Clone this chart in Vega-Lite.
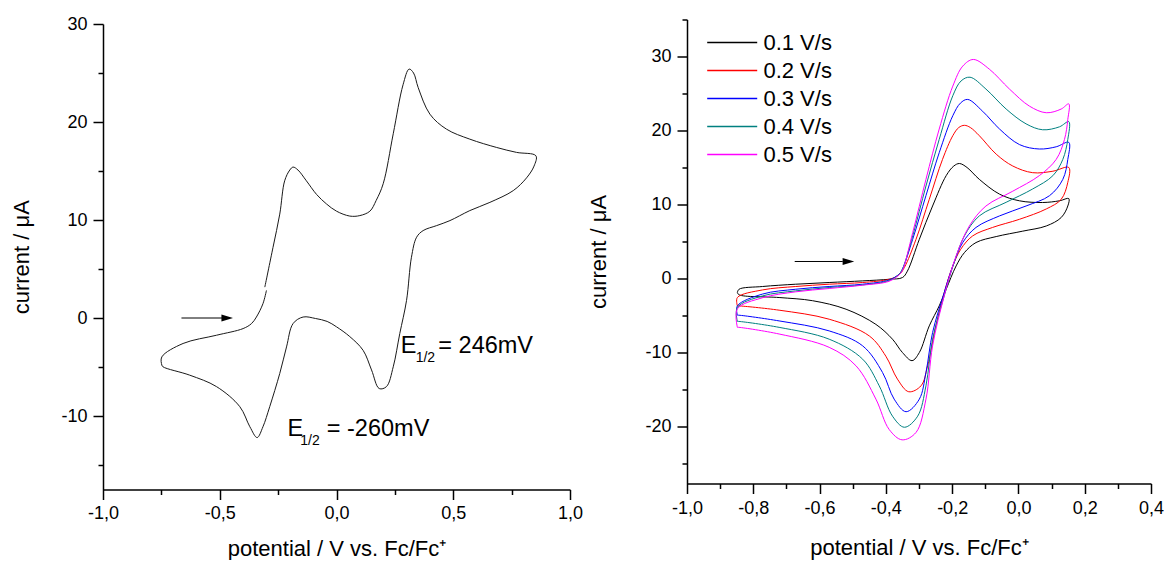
{
  "$schema": "https://vega.github.io/schema/vega-lite/v6.json",
  "padding": {"left": 10, "top": 10.5, "right": 0, "bottom": 0},
  "spacing": 4,
  "config": {
    "font": "Liberation Sans",
    "locale": {"number": {"decimal": ",", "thousands": ".", "grouping": [3], "currency": ["", ""], "minus": "-"}},
    "view": {"stroke": null},
    "axis": {
      "grid": false, "domainColor": "#000", "domainWidth": 1.5, "tickColor": "#000", "tickWidth": 1.5,
      "labelFont": "Liberation Sans", "labelFontSize": 18, "labelColor": "#000", "labelOverlap": false, "labelFlush": false,
      "titleFont": "Liberation Sans", "titleFontSize": 22, "titleFontWeight": "normal", "titleColor": "#000"
    }
  },
  "datasets": {
    "left": [
      {"i":1,"x":-0.307,"y":3.15},{"i":2,"x":-0.272,"y":7.2},{"i":3,"x":-0.243,"y":10.6},{"i":4,"x":-0.222,"y":14.0},{"i":5,"x":-0.2,"y":15.1},{"i":6,"x":-0.186,"y":15.4},{"i":7,"x":-0.165,"y":15.1},{"i":8,"x":-0.129,"y":14.0},{"i":9,"x":-0.085,"y":12.6},{"i":10,"x":-0.043,"y":11.64},{"i":11,"x":0.0,"y":10.9},{"i":12,"x":0.057,"y":10.4},{"i":13,"x":0.1,"y":10.45},{"i":14,"x":0.143,"y":10.9},{"i":15,"x":0.17,"y":12.0},{"i":16,"x":0.2,"y":13.7},{"i":17,"x":0.243,"y":18.8},{"i":18,"x":0.285,"y":23.8},{"i":19,"x":0.311,"y":25.4},{"i":20,"x":0.33,"y":25.0},{"i":21,"x":0.35,"y":23.5},{"i":22,"x":0.4,"y":20.8},{"i":23,"x":0.471,"y":19.27},{"i":24,"x":0.571,"y":18.25},{"i":25,"x":0.686,"y":17.4},{"i":26,"x":0.771,"y":16.9},{"i":27,"x":0.854,"y":16.55},
      {"i":28,"x":0.846,"y":15.5},{"i":29,"x":0.814,"y":14.3},{"i":30,"x":0.757,"y":13.0},{"i":31,"x":0.657,"y":11.8},{"i":32,"x":0.571,"y":10.96},{"i":33,"x":0.486,"y":9.94},{"i":34,"x":0.429,"y":9.43},{"i":35,"x":0.371,"y":8.92},{"i":36,"x":0.343,"y":8.24},{"i":37,"x":0.321,"y":6.2},{"i":38,"x":0.3,"y":1.8},{"i":39,"x":0.271,"y":-1.59},{"i":40,"x":0.243,"y":-4.98},{"i":41,"x":0.214,"y":-7.0},{"i":42,"x":0.183,"y":-7.2},{"i":43,"x":0.15,"y":-5.3},{"i":44,"x":0.114,"y":-3.3},{"i":45,"x":0.057,"y":-1.9},{"i":46,"x":0.0,"y":-0.9},{"i":47,"x":-0.04,"y":-0.35},{"i":48,"x":-0.09,"y":-0.05},{"i":49,"x":-0.143,"y":0.1},{"i":50,"x":-0.186,"y":-0.57},{"i":51,"x":-0.214,"y":-2.95},{"i":52,"x":-0.243,"y":-5.66},{"i":53,"x":-0.286,"y":-9.05},{"i":54,"x":-0.315,"y":-11.1},{"i":55,"x":-0.34,"y":-12.2},{"i":56,"x":-0.371,"y":-11.1},{"i":57,"x":-0.414,"y":-9.05},{"i":58,"x":-0.514,"y":-7.0},{"i":59,"x":-0.629,"y":-5.83},{"i":60,"x":-0.743,"y":-4.98},{"i":61,"x":-0.748,"y":-4.8},{"i":62,"x":-0.748,"y":-3.97},{"i":63,"x":-0.657,"y":-2.6},{"i":64,"x":-0.514,"y":-1.76},{"i":65,"x":-0.4,"y":-1.08},{"i":66,"x":-0.364,"y":-0.57},{"i":67,"x":-0.343,"y":0.1},{"i":68,"x":-0.315,"y":1.46},{"i":69,"x":-0.3,"y":2.82}
    ],
    "arrowL": [{"x":-0.664,"x2":-0.49,"y":0}],
    "headL": [{"x":-0.468,"y":0}],
    "notesL": [
      {"x":0.2756,"y":-3.62,"t":"E","k":"m"},{"x":0.339,"y":-4.54,"t":"1/2","k":"s"},{"x":0.436,"y":-3.62,"t":"= 246mV","k":"m"},
      {"x":-0.21,"y":-12.03,"t":"E","k":"m"},{"x":-0.155,"y":-12.95,"t":"1/2","k":"s"},{"x":-0.0416,"y":-12.03,"t":"= -260mV","k":"m"}
    ],
    "arrowR": [{"x":-0.675,"x2":-0.53,"y":2.3}],
    "headR": [{"x":-0.513,"y":2.3}],
    "right": [
      {"s":"0.1 V/s","i":1,"x":-0.848,"y":-1.9},{"s":"0.1 V/s","i":2,"x":-0.843,"y":-1.45},{"s":"0.1 V/s","i":3,"x":-0.772,"y":-1.08},{"s":"0.1 V/s","i":4,"x":-0.672,"y":-0.77},{"s":"0.1 V/s","i":5,"x":-0.571,"y":-0.54},{"s":"0.1 V/s","i":6,"x":-0.47,"y":-0.32},{"s":"0.1 V/s","i":7,"x":-0.39,"y":-0.1},{"s":"0.1 V/s","i":8,"x":-0.35,"y":0.13},{"s":"0.1 V/s","i":9,"x":-0.335,"y":1.0},{"s":"0.1 V/s","i":10,"x":-0.299,"y":5.3},{"s":"0.1 V/s","i":11,"x":-0.259,"y":9.8},{"s":"0.1 V/s","i":12,"x":-0.218,"y":13.9},{"s":"0.1 V/s","i":13,"x":-0.195,"y":15.2},{"s":"0.1 V/s","i":14,"x":-0.178,"y":15.54},{"s":"0.1 V/s","i":15,"x":-0.155,"y":15.0},{"s":"0.1 V/s","i":16,"x":-0.118,"y":13.4},{"s":"0.1 V/s","i":17,"x":-0.057,"y":11.4},{"s":"0.1 V/s","i":18,"x":0.003,"y":10.5},{"s":"0.1 V/s","i":19,"x":0.073,"y":10.27},{"s":"0.1 V/s","i":20,"x":0.124,"y":10.5},{"s":"0.1 V/s","i":21,"x":0.152,"y":10.8},
      {"s":"0.1 V/s","i":22,"x":0.149,"y":9.8},{"s":"0.1 V/s","i":23,"x":0.129,"y":8.24},{"s":"0.1 V/s","i":24,"x":0.084,"y":7.1},{"s":"0.1 V/s","i":25,"x":0.013,"y":6.4},{"s":"0.1 V/s","i":26,"x":-0.067,"y":5.67},{"s":"0.1 V/s","i":27,"x":-0.128,"y":4.86},{"s":"0.1 V/s","i":28,"x":-0.163,"y":3.5},{"s":"0.1 V/s","i":29,"x":-0.188,"y":1.7},{"s":"0.1 V/s","i":30,"x":-0.218,"y":-1.45},{"s":"0.1 V/s","i":31,"x":-0.239,"y":-3.7},{"s":"0.1 V/s","i":32,"x":-0.269,"y":-6.4},{"s":"0.1 V/s","i":33,"x":-0.299,"y":-10.0},{"s":"0.1 V/s","i":34,"x":-0.321,"y":-11.1},{"s":"0.1 V/s","i":35,"x":-0.35,"y":-10.0},{"s":"0.1 V/s","i":36,"x":-0.38,"y":-8.2},{"s":"0.1 V/s","i":37,"x":-0.43,"y":-6.2},{"s":"0.1 V/s","i":38,"x":-0.52,"y":-4.15},{"s":"0.1 V/s","i":39,"x":-0.621,"y":-3.0},{"s":"0.1 V/s","i":40,"x":-0.722,"y":-2.57},{"s":"0.1 V/s","i":41,"x":-0.843,"y":-2.2},{"s":"0.1 V/s","i":42,"x":-0.848,"y":-1.9},

      {"s":"0.2 V/s","i":1,"x":-0.848,"y":-3.7},{"s":"0.2 V/s","i":2,"x":-0.848,"y":-2.57},{"s":"0.2 V/s","i":3,"x":-0.772,"y":-1.54},{"s":"0.2 V/s","i":4,"x":-0.672,"y":-1.08},{"s":"0.2 V/s","i":5,"x":-0.571,"y":-0.77},{"s":"0.2 V/s","i":6,"x":-0.47,"y":-0.54},{"s":"0.2 V/s","i":7,"x":-0.39,"y":-0.1},{"s":"0.2 V/s","i":8,"x":-0.36,"y":0.5},{"s":"0.2 V/s","i":9,"x":-0.344,"y":1.5},{"s":"0.2 V/s","i":10,"x":-0.309,"y":5.3},{"s":"0.2 V/s","i":11,"x":-0.269,"y":10.7},{"s":"0.2 V/s","i":12,"x":-0.229,"y":16.1},{"s":"0.2 V/s","i":13,"x":-0.198,"y":19.3},{"s":"0.2 V/s","i":14,"x":-0.18,"y":20.4},{"s":"0.2 V/s","i":15,"x":-0.163,"y":20.7},{"s":"0.2 V/s","i":16,"x":-0.145,"y":20.4},{"s":"0.2 V/s","i":17,"x":-0.118,"y":19.3},{"s":"0.2 V/s","i":18,"x":-0.067,"y":16.8},{"s":"0.2 V/s","i":19,"x":-0.017,"y":15.2},{"s":"0.2 V/s","i":20,"x":0.043,"y":14.3},{"s":"0.2 V/s","i":21,"x":0.104,"y":14.5},{"s":"0.2 V/s","i":22,"x":0.152,"y":15.0},
      {"s":"0.2 V/s","i":23,"x":0.149,"y":13.0},{"s":"0.2 V/s","i":24,"x":0.129,"y":10.7},{"s":"0.2 V/s","i":25,"x":0.084,"y":9.4},{"s":"0.2 V/s","i":26,"x":0.003,"y":8.0},{"s":"0.2 V/s","i":27,"x":-0.078,"y":6.9},{"s":"0.2 V/s","i":28,"x":-0.138,"y":5.76},{"s":"0.2 V/s","i":29,"x":-0.174,"y":3.96},{"s":"0.2 V/s","i":30,"x":-0.198,"y":1.7},{"s":"0.2 V/s","i":31,"x":-0.224,"y":-1.9},{"s":"0.2 V/s","i":32,"x":-0.249,"y":-6.4},{"s":"0.2 V/s","i":33,"x":-0.274,"y":-11.8},{"s":"0.2 V/s","i":34,"x":-0.294,"y":-14.5},{"s":"0.2 V/s","i":35,"x":-0.331,"y":-15.3},{"s":"0.2 V/s","i":36,"x":-0.365,"y":-13.6},{"s":"0.2 V/s","i":37,"x":-0.4,"y":-10.5},{"s":"0.2 V/s","i":38,"x":-0.45,"y":-7.76},{"s":"0.2 V/s","i":39,"x":-0.571,"y":-5.5},{"s":"0.2 V/s","i":40,"x":-0.722,"y":-4.28},{"s":"0.2 V/s","i":41,"x":-0.843,"y":-3.7},{"s":"0.2 V/s","i":42,"x":-0.848,"y":-3.7},

      {"s":"0.3 V/s","i":1,"x":-0.848,"y":-4.96},{"s":"0.3 V/s","i":2,"x":-0.848,"y":-3.7},{"s":"0.3 V/s","i":3,"x":-0.772,"y":-2.1},{"s":"0.3 V/s","i":4,"x":-0.672,"y":-1.45},{"s":"0.3 V/s","i":5,"x":-0.571,"y":-1.08},{"s":"0.3 V/s","i":6,"x":-0.47,"y":-0.77},{"s":"0.3 V/s","i":7,"x":-0.39,"y":-0.19},{"s":"0.3 V/s","i":8,"x":-0.36,"y":0.6},{"s":"0.3 V/s","i":9,"x":-0.35,"y":1.26},{"s":"0.3 V/s","i":10,"x":-0.319,"y":5.3},{"s":"0.3 V/s","i":11,"x":-0.279,"y":11.2},{"s":"0.3 V/s","i":12,"x":-0.239,"y":17.0},{"s":"0.3 V/s","i":13,"x":-0.198,"y":22.0},{"s":"0.3 V/s","i":14,"x":-0.175,"y":23.7},{"s":"0.3 V/s","i":15,"x":-0.153,"y":24.2},{"s":"0.3 V/s","i":16,"x":-0.108,"y":22.6},{"s":"0.3 V/s","i":17,"x":-0.057,"y":20.2},{"s":"0.3 V/s","i":18,"x":0.003,"y":18.1},{"s":"0.3 V/s","i":19,"x":0.063,"y":17.5},{"s":"0.3 V/s","i":20,"x":0.114,"y":17.8},{"s":"0.3 V/s","i":21,"x":0.152,"y":18.4},
      {"s":"0.3 V/s","i":22,"x":0.149,"y":16.1},{"s":"0.3 V/s","i":23,"x":0.134,"y":13.4},{"s":"0.3 V/s","i":24,"x":0.094,"y":11.2},{"s":"0.3 V/s","i":25,"x":0.023,"y":9.8},{"s":"0.3 V/s","i":26,"x":-0.057,"y":8.46},{"s":"0.3 V/s","i":27,"x":-0.128,"y":6.9},{"s":"0.3 V/s","i":28,"x":-0.168,"y":4.86},{"s":"0.3 V/s","i":29,"x":-0.198,"y":1.7},{"s":"0.3 V/s","i":30,"x":-0.224,"y":-1.9},{"s":"0.3 V/s","i":31,"x":-0.259,"y":-7.3},{"s":"0.3 V/s","i":32,"x":-0.279,"y":-12.7},{"s":"0.3 V/s","i":33,"x":-0.299,"y":-16.3},{"s":"0.3 V/s","i":34,"x":-0.339,"y":-18.0},{"s":"0.3 V/s","i":35,"x":-0.375,"y":-16.3},{"s":"0.3 V/s","i":36,"x":-0.41,"y":-12.7},{"s":"0.3 V/s","i":37,"x":-0.47,"y":-9.1},{"s":"0.3 V/s","i":38,"x":-0.571,"y":-7.08},{"s":"0.3 V/s","i":39,"x":-0.722,"y":-5.73},{"s":"0.3 V/s","i":40,"x":-0.843,"y":-4.96},{"s":"0.3 V/s","i":41,"x":-0.848,"y":-4.96},

      {"s":"0.4 V/s","i":1,"x":-0.848,"y":-5.8},{"s":"0.4 V/s","i":2,"x":-0.848,"y":-3.9},{"s":"0.4 V/s","i":3,"x":-0.772,"y":-2.35},{"s":"0.4 V/s","i":4,"x":-0.672,"y":-1.67},{"s":"0.4 V/s","i":5,"x":-0.571,"y":-1.22},{"s":"0.4 V/s","i":6,"x":-0.47,"y":-0.86},{"s":"0.4 V/s","i":7,"x":-0.39,"y":-0.28},{"s":"0.4 V/s","i":8,"x":-0.36,"y":0.6},{"s":"0.4 V/s","i":9,"x":-0.35,"y":1.26},{"s":"0.4 V/s","i":10,"x":-0.319,"y":5.76},{"s":"0.4 V/s","i":11,"x":-0.279,"y":12.5},{"s":"0.4 V/s","i":12,"x":-0.239,"y":18.8},{"s":"0.4 V/s","i":13,"x":-0.198,"y":24.7},{"s":"0.4 V/s","i":14,"x":-0.173,"y":26.7},{"s":"0.4 V/s","i":15,"x":-0.146,"y":27.2},{"s":"0.4 V/s","i":16,"x":-0.098,"y":25.6},{"s":"0.4 V/s","i":17,"x":-0.037,"y":22.9},{"s":"0.4 V/s","i":18,"x":0.023,"y":20.9},{"s":"0.4 V/s","i":19,"x":0.073,"y":20.1},{"s":"0.4 V/s","i":20,"x":0.124,"y":20.5},{"s":"0.4 V/s","i":21,"x":0.152,"y":21.2},
      {"s":"0.4 V/s","i":22,"x":0.149,"y":18.8},{"s":"0.4 V/s","i":23,"x":0.134,"y":16.1},{"s":"0.4 V/s","i":24,"x":0.104,"y":13.9},{"s":"0.4 V/s","i":25,"x":0.043,"y":12.1},{"s":"0.4 V/s","i":26,"x":-0.037,"y":10.3},{"s":"0.4 V/s","i":27,"x":-0.118,"y":8.46},{"s":"0.4 V/s","i":28,"x":-0.163,"y":5.76},{"s":"0.4 V/s","i":29,"x":-0.194,"y":2.16},{"s":"0.4 V/s","i":30,"x":-0.224,"y":-2.35},{"s":"0.4 V/s","i":31,"x":-0.259,"y":-8.2},{"s":"0.4 V/s","i":32,"x":-0.279,"y":-14.5},{"s":"0.4 V/s","i":33,"x":-0.304,"y":-18.6},{"s":"0.4 V/s","i":34,"x":-0.344,"y":-20.1},{"s":"0.4 V/s","i":35,"x":-0.38,"y":-18.6},{"s":"0.4 V/s","i":36,"x":-0.42,"y":-14.5},{"s":"0.4 V/s","i":37,"x":-0.47,"y":-10.9},{"s":"0.4 V/s","i":38,"x":-0.571,"y":-8.2},{"s":"0.4 V/s","i":39,"x":-0.722,"y":-6.6},{"s":"0.4 V/s","i":40,"x":-0.843,"y":-5.8},{"s":"0.4 V/s","i":41,"x":-0.848,"y":-5.8},

      {"s":"0.5 V/s","i":1,"x":-0.848,"y":-6.6},{"s":"0.5 V/s","i":2,"x":-0.848,"y":-4.1},{"s":"0.5 V/s","i":3,"x":-0.772,"y":-2.6},{"s":"0.5 V/s","i":4,"x":-0.672,"y":-1.8},{"s":"0.5 V/s","i":5,"x":-0.571,"y":-1.35},{"s":"0.5 V/s","i":6,"x":-0.47,"y":-0.9},{"s":"0.5 V/s","i":7,"x":-0.39,"y":-0.37},{"s":"0.5 V/s","i":8,"x":-0.36,"y":0.5},{"s":"0.5 V/s","i":9,"x":-0.35,"y":1.1},{"s":"0.5 V/s","i":10,"x":-0.319,"y":6.2},{"s":"0.5 V/s","i":11,"x":-0.279,"y":13.4},{"s":"0.5 V/s","i":12,"x":-0.239,"y":20.2},{"s":"0.5 V/s","i":13,"x":-0.198,"y":26.0},{"s":"0.5 V/s","i":14,"x":-0.168,"y":28.7},{"s":"0.5 V/s","i":15,"x":-0.136,"y":29.6},{"s":"0.5 V/s","i":16,"x":-0.088,"y":28.3},{"s":"0.5 V/s","i":17,"x":-0.027,"y":25.6},{"s":"0.5 V/s","i":18,"x":0.033,"y":23.3},{"s":"0.5 V/s","i":19,"x":0.084,"y":22.4},{"s":"0.5 V/s","i":20,"x":0.129,"y":22.9},{"s":"0.5 V/s","i":21,"x":0.152,"y":23.6},
      {"s":"0.5 V/s","i":22,"x":0.149,"y":21.5},{"s":"0.5 V/s","i":23,"x":0.139,"y":18.8},{"s":"0.5 V/s","i":24,"x":0.114,"y":16.1},{"s":"0.5 V/s","i":25,"x":0.063,"y":13.9},{"s":"0.5 V/s","i":26,"x":-0.017,"y":11.8},{"s":"0.5 V/s","i":27,"x":-0.098,"y":9.8},{"s":"0.5 V/s","i":28,"x":-0.148,"y":7.1},{"s":"0.5 V/s","i":29,"x":-0.188,"y":3.05},{"s":"0.5 V/s","i":30,"x":-0.224,"y":-2.35},{"s":"0.5 V/s","i":31,"x":-0.259,"y":-9.1},{"s":"0.5 V/s","i":32,"x":-0.279,"y":-16.3},{"s":"0.5 V/s","i":33,"x":-0.309,"y":-20.8},{"s":"0.5 V/s","i":34,"x":-0.351,"y":-21.8},{"s":"0.5 V/s","i":35,"x":-0.39,"y":-20.4},{"s":"0.5 V/s","i":36,"x":-0.43,"y":-16.3},{"s":"0.5 V/s","i":37,"x":-0.49,"y":-11.8},{"s":"0.5 V/s","i":38,"x":-0.571,"y":-9.3},{"s":"0.5 V/s","i":39,"x":-0.722,"y":-7.5},{"s":"0.5 V/s","i":40,"x":-0.843,"y":-6.6},{"s":"0.5 V/s","i":41,"x":-0.848,"y":-6.6}
    ]
  },
  "resolve": {"scale": {"color": "independent", "size": "independent"}, "legend": {"color": "independent", "size": "independent"}},
  "hconcat": [
    {
      "vconcat": [
        {"width": 467, "height": 1, "data": {"values": []}, "mark": {"type": "point", "opacity": 0}},
        {
          "width": 467,
          "height": 465.5,
          "encoding": {
            "x": {"field": "x", "type": "quantitative", "scale": {"domain": [-1, 1], "nice": false, "zero": false},
              "axis": {"values": [-1, -0.75, -0.5, -0.25, 0, 0.25, 0.5, 0.75, 1], "format": ".1f",
                "labelExpr": "abs(datum.value*2 - round(datum.value*2)) < 0.001 ? datum.label : ''",
                "tickSize": {"condition": {"test": "abs(datum.value*2 - round(datum.value*2)) < 0.001", "value": 10}, "value": 5},
                "labelPadding": 5, "title": "potential / V vs. Fc/Fc⁺", "titlePadding": 16}},
            "y": {"field": "y", "type": "quantitative", "scale": {"domain": [-17.5, 30], "nice": false, "zero": false},
              "axis": {"values": [-15, -10, -5, 0, 5, 10, 15, 20, 25, 30], "format": "d",
                "labelExpr": "datum.value % 10 == 0 ? datum.label : ''",
                "tickSize": {"condition": {"test": "datum.value % 10 == 0", "value": 10}, "value": 5},
                "labelPadding": 6, "title": "current / μA", "titlePadding": 27}}
          },
          "layer": [
            {"data": {"name": "left"}, "mark": {"type": "line", "color": "#1a1a1a", "strokeWidth": 1, "interpolate": "catmull-rom"},
              "encoding": {"order": {"field": "i", "type": "quantitative"}}},
            {"data": {"name": "arrowL"}, "mark": {"type": "rule", "color": "#000", "strokeWidth": 1},
              "encoding": {"x2": {"field": "x2"}}},
            {"data": {"name": "headL"}, "mark": {"type": "point", "shape": "M-1,-0.6L1,0L-1,0.6Z", "size": 135, "filled": true, "color": "#000", "opacity": 1}},
            {"data": {"name": "notesL"}, "mark": {"type": "text", "align": "left", "baseline": "alphabetic", "color": "#000", "font": "Liberation Sans"},
              "encoding": {"text": {"field": "t"}, "size": {"field": "k", "type": "nominal", "scale": {"domain": ["m", "s"], "range": [23.5, 14]}, "legend": null}}}
          ]
        }
      ],
      "spacing": 3.5,
      "bounds": "flush"
    },
    {
      "width": 464,
      "height": 464,
      "encoding": {
        "x": {"field": "x", "type": "quantitative", "scale": {"domain": [-1, 0.4], "nice": false, "zero": false},
          "axis": {"values": [-1, -0.9, -0.8, -0.7, -0.6, -0.5, -0.4, -0.3, -0.2, -0.1, 0, 0.1, 0.2, 0.3, 0.4], "format": ".1f",
            "labelExpr": "abs(datum.value*5 - round(datum.value*5)) < 0.001 ? datum.label : ''",
            "tickSize": {"condition": {"test": "abs(datum.value*5 - round(datum.value*5)) < 0.001", "value": 10}, "value": 5},
            "labelPadding": 6, "title": "potential / V vs. Fc/Fc⁺", "titlePadding": 20}},
        "y": {"field": "y", "type": "quantitative", "scale": {"domain": [-27.7, 35], "nice": false, "zero": false},
          "axis": {"values": [-25, -20, -15, -10, -5, 0, 5, 10, 15, 20, 25, 30, 35], "format": "d",
            "labelExpr": "datum.value % 10 == 0 ? datum.label : ''",
            "tickSize": {"condition": {"test": "datum.value % 10 == 0", "value": 10}, "value": 5},
            "labelPadding": 6, "title": "current / μA", "titlePadding": 34}}
      },
      "layer": [
        {"data": {"name": "right"}, "mark": {"type": "line", "strokeWidth": 1, "interpolate": "catmull-rom"},
          "encoding": {
            "order": {"field": "i", "type": "quantitative"},
            "color": {"field": "s", "type": "nominal",
              "scale": {"domain": ["0.1 V/s", "0.2 V/s", "0.3 V/s", "0.4 V/s", "0.5 V/s"], "range": ["#000000", "#ff0000", "#0000ff", "#008080", "#ff00ff"]},
              "legend": {"orient": "none", "legendX": 28.2, "legendY": 6, "title": null, "symbolType": "M-1.5625,0H1.5625", "symbolSize": 1024, "symbolStrokeWidth": 1.3,
                "labelFontSize": 22, "labelFont": "Liberation Sans", "labelColor": "#000", "labelOffset": 14.2, "rowPadding": 0, "padding": 0}}
          }},
        {"data": {"name": "arrowR"}, "mark": {"type": "rule", "color": "#000", "strokeWidth": 1},
          "encoding": {"x2": {"field": "x2"}}},
        {"data": {"name": "headR"}, "mark": {"type": "point", "shape": "M-1,-0.6L1,0L-1,0.6Z", "size": 135, "filled": true, "color": "#000", "opacity": 1}}
      ]
    }
  ]
}
